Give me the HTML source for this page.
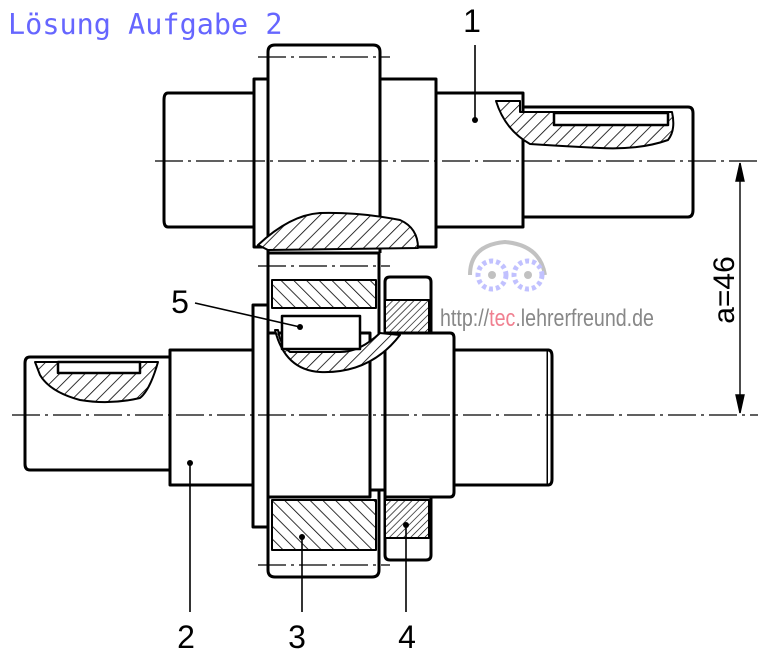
<!DOCTYPE html>
<html><head><meta charset="utf-8"><style>
html,body{margin:0;padding:0;background:#fff;}
svg{display:block}
</style></head><body>
<svg width="758" height="660" viewBox="0 0 758 660" xmlns="http://www.w3.org/2000/svg">
<defs>
<pattern id="h" width="9" height="9" patternUnits="userSpaceOnUse" patternTransform="rotate(45)">
<rect width="9" height="9" fill="#fff"/><line x1="0" y1="0" x2="0" y2="9" stroke="#000" stroke-width="1.6"/></pattern>
<pattern id="h2" width="9" height="9" patternUnits="userSpaceOnUse" patternTransform="rotate(-45)">
<rect width="9" height="9" fill="#fff"/><line x1="0" y1="0" x2="0" y2="9" stroke="#000" stroke-width="1.6"/></pattern>
<pattern id="h3" width="5" height="5" patternUnits="userSpaceOnUse" patternTransform="rotate(45)">
<rect width="5" height="5" fill="#fff"/><line x1="0" y1="0" x2="0" y2="5" stroke="#000" stroke-width="1.3"/></pattern>
</defs>
<text x="8" y="34" font-family="DejaVu Sans Mono, Liberation Mono, monospace" font-size="28.5" fill="#6666ff">Lösung Aufgabe 2</text>

<g fill="#fff" stroke="#000" stroke-width="3" stroke-linejoin="round">
<!-- top shaft -->
<path d="M168,93 H254 V227 H168 Q164,227 164,220 V100 Q164,93 168,93Z"/>
<rect x="254" y="79" width="14" height="168"/>
<rect x="380" y="79" width="56" height="168"/>
<rect x="436" y="93" width="87" height="134"/>
<path d="M523,107 H688 Q693,107 693,113 V210 Q693,217 688,217 H523Z"/>
<path d="M268,253 V52 Q268,45 275,45 H373 Q380,45 380,52 V253"/>
<line x1="268" y1="262" x2="380" y2="262"/>
<!-- top hatch cutouts -->
<path d="M496,101 H520 V112 H672 Q676,130 668,140 Q640,150 600,148 Q560,146 530,144 Q505,130 496,101Z" fill="url(#h)" stroke-width="2"/>
<rect x="554" y="113" width="114" height="12" stroke-width="2.5"/>
<path d="M258,245 Q290,215 320,213 Q360,212 400,220 Q418,228 418,248 L268,250Z" fill="url(#h)" stroke-width="2"/>

<!-- bottom gear 3 -->
<path d="M268,253 V570 Q268,577 275,577 H372 Q379,577 379,570 V253Z"/>
<rect x="272" y="280" width="104" height="28" fill="url(#h2)" stroke-width="2"/>
<rect x="272" y="500" width="104" height="50" fill="url(#h2)" stroke-width="2"/>
<!-- ring 4 -->
<path d="M385,282 Q385,277 390,277 H426 Q431,277 431,282 V555 Q431,560 426,560 H390 Q385,560 385,555Z"/>
<rect x="385" y="300" width="44" height="33" fill="url(#h3)" stroke-width="2"/>
<rect x="385" y="500" width="44" height="38" fill="url(#h3)" stroke-width="2"/>
<!-- bottom shaft -->
<path d="M30,357 H170 V470 H30 Q25,470 25,464 V363 Q25,357 30,357Z"/>
<rect x="170" y="350" width="83" height="135"/>
<rect x="253" y="305" width="15" height="222"/>
<rect x="268" y="333" width="102" height="164"/>
<rect x="370" y="340" width="15" height="150"/>
<path d="M385,333 H450 Q454,333 454,338 V492 Q454,497 450,497 H385Z"/>
<rect x="454" y="350" width="94" height="135"/>
<path d="M548,350 Q552,350 552,356 V479 Q552,485 548,485"/>
<!-- key area hatch -->
<path d="M275,330 Q285,370 320,372 Q370,374 400,335 L380,333 Q360,352 340,352 H290 Q280,345 278,330Z" fill="url(#h)" stroke-width="2"/>
<rect x="282" y="316" width="78" height="33" stroke-width="2.5"/>
<!-- left end hatch -->
<path d="M35,362 H158 Q150,390 140,398 Q110,405 80,400 Q50,392 40,375Z" fill="url(#h)" stroke-width="2"/>
<rect x="58" y="362" width="82" height="11" stroke-width="2.5"/>
</g>

<!-- centerlines -->
<g stroke="#000" stroke-width="1.3" stroke-dasharray="28,5,3,5">
<line x1="155" y1="161" x2="758" y2="161"/>
<line x1="12" y1="415" x2="758" y2="415"/>
<line x1="258" y1="57" x2="390" y2="57"/>
<line x1="258" y1="266" x2="390" y2="266"/>
<line x1="258" y1="565" x2="390" y2="565"/>
</g>

<!-- dimension -->
<g stroke="#000" stroke-width="1.4" fill="#000">
<line x1="740" y1="163" x2="740" y2="413"/>
<path d="M740,163 l-4,18 h8Z"/><path d="M740,413 l-4,-18 h8Z"/>
</g>
<text transform="translate(734,290) rotate(-90)" text-anchor="middle" font-family="Liberation Sans, sans-serif" font-size="30" fill="#000">a=46</text>

<!-- leaders -->
<g stroke="#000" stroke-width="1.6">
<line x1="475" y1="45" x2="475" y2="120"/>
<line x1="195" y1="303" x2="300" y2="327"/>
<line x1="190" y1="463" x2="190" y2="612"/>
<line x1="302" y1="537" x2="302" y2="612"/>
<line x1="406" y1="525" x2="406" y2="612"/>
</g>
<g fill="#000"><circle cx="475" cy="120" r="3"/><circle cx="300" cy="327" r="3"/><circle cx="190" cy="463" r="3"/><circle cx="302" cy="537" r="3"/><circle cx="406" cy="525" r="3"/></g>
<g font-family="Liberation Sans, sans-serif" font-size="32" fill="#000" text-anchor="middle">
<text x="472" y="32">1</text><text x="180" y="313">5</text>
<text x="186" y="648">2</text><text x="297" y="648">3</text><text x="407" y="648">4</text>
</g>

<!-- watermark -->
<g opacity="0.6">
<path d="M470,275 Q470,245 505,242 Q540,245 545,275" fill="none" stroke="#999" stroke-width="4"/>
<circle cx="492" cy="275" r="14" fill="none" stroke="#99f" stroke-width="5" stroke-dasharray="4,3"/>
<circle cx="528" cy="275" r="14" fill="none" stroke="#99f" stroke-width="5" stroke-dasharray="4,3"/>
<circle cx="492" cy="275" r="4" fill="#999"/><circle cx="528" cy="275" r="4" fill="#999"/>
</g>
<text x="440" y="326" font-family="Liberation Sans Narrow, Liberation Sans, sans-serif" font-size="24" fill="#888" textLength="214" lengthAdjust="spacingAndGlyphs">http://<tspan fill="#f08090">tec</tspan>.lehrerfreund.de</text>
</svg>
</body></html>
